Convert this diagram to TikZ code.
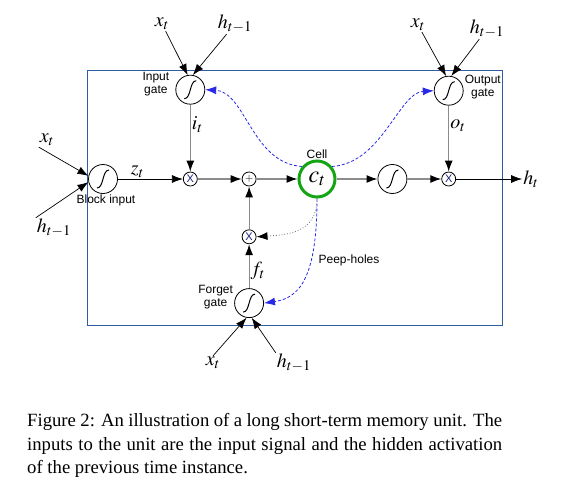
\documentclass[tikz,border=0pt]{standalone}
\usepackage{mathptmx}
\usepackage{fontspec}
\setmainfont{Liberation Serif}
\setsansfont{Liberation Sans}
\usetikzlibrary{positioning, arrows.meta}

\definecolor{frameblue}{RGB}{46,94,160}
\definecolor{cellgreen}{RGB}{20,165,20}
\definecolor{peepblue}{RGB}{40,40,230}
\definecolor{crossblue}{RGB}{25,35,120}

\begin{document}
\begin{tikzpicture}[
    x=1pt, y=1pt,
    sig_node/.style={draw, circle, line width=0.8pt, minimum size=29pt, inner sep=0pt,
        path picture={\draw[line width=1pt]
            ([shift={(-6pt,-9pt)}]path picture bounding box.center)
            .. controls ([shift={(1pt,-9pt)}]path picture bounding box.center)
            and ([shift={(-1pt,9pt)}]path picture bounding box.center)
            .. ([shift={(6pt,9pt)}]path picture bounding box.center);}},
    mult_node/.style={draw, circle, line width=0.8pt, minimum size=14pt, inner sep=0pt, font=\sffamily\fontsize{11}{11}\selectfont},
    cell_node/.style={draw=cellgreen, circle, line width=3pt, minimum size=36pt, inner sep=0pt, font=\fontsize{24}{24}\selectfont},
    var_label/.style={inner sep=1pt, font=\fontsize{20}{24}\selectfont},
    text_label/.style={inner sep=0pt, align=center, font=\sffamily\fontsize{12}{13}\selectfont},
    in_arrow/.style={line width=0.7pt, -{Latex[length=11pt,width=8pt]}},
    flow_arrow/.style={draw=black!45, line width=1.2pt, -{Latex[length=11pt,width=8pt,color=black]}},
    peep_line/.style={peepblue, densely dashed, line width=0.8pt, -{Latex[length=11pt,width=8pt]}}
]
\useasboundingbox (0,0) rectangle (570,-490);

%%%%% Unit frame
\draw[frameblue, line width=0.8pt] (87,-70) rectangle (502,-325);

%%%%% Main chain of nodes
\node[sig_node] (blk) at (103,-179) {};
\node[mult_node, right=65pt of blk]  (mi)   {\textcolor{crossblue}{X}};
\node[mult_node, right=44pt of mi]   (ad)   {$+$};
\node[cell_node, right=41pt of ad]   (cell) {$c_t$};
\node[sig_node,  right=41pt of cell] (sq)   {};
\node[mult_node, right=34pt of sq]   (mo)   {\textcolor{crossblue}{X}};
\node[var_label, right=66pt of mo]   (ht)   {$h_t$};

% Gates
\node[sig_node,  above=67pt of mi] (ig) {};
\node[sig_node,  above=66pt of mo] (og) {};
\node[mult_node, below=43pt of ad] (fm) {\textcolor{crossblue}{X}};
\node[sig_node,  below=44pt of fm] (fg) {};

% Inputs
\node[var_label] (xi) at (162,-24)  {$x_t$};
\node[var_label] (hi) at (235,-24)  {$h_{t-1}$};
\node[var_label] (xo) at (418,-25)  {$x_t$};
\node[var_label] (ho) at (487,-29)  {$h_{t-1}$};
\node[var_label] (xb) at (47,-140)  {$x_t$};
\node[var_label] (hb) at (54,-228)  {$h_{t-1}$};
\node[var_label] (xf) at (213,-363) {$x_t$};
\node[var_label] (hf) at (294,-363) {$h_{t-1}$};

% Names
\node[text_label, left=6pt of ig, yshift=6pt]   (ig_txt)   {Input\\gate};
\node[text_label, right=1pt of og, yshift=4pt]  (og_txt)   {Output\\gate};
\node[text_label, below=1pt of blk, xshift=3pt] (blk_txt)  {Block input};
\node[text_label, above=1pt of cell]            (cell_txt) {Cell};
\node[text_label, left=1pt of fg, yshift=6pt]   (fg_txt)   {Forget\\gate};
\node[text_label] (peep_txt) at (349,-260) {Peep-holes};

%  Draw arrows between nodes
\draw[in_arrow] (xb.south west) -- (blk.168);
\draw[in_arrow] (hb.north west) -- (blk.192);
\draw[in_arrow] (xi) -- (ig.100);
\draw[in_arrow] (hi) -- (ig.80);
\draw[in_arrow] (xo) -- (og.100);
\draw[in_arrow] (ho) -- (og.80);
\draw[in_arrow] (xf.north) -- (fg.260);
\draw[in_arrow] (hf.north west) -- (fg.280);

\draw[in_arrow] (blk) -- node[var_label, above, pos=0.3] (zt) {$z_t$} (mi);
\draw[flow_arrow] (ig) -- node[var_label, right, pos=0.3] (it) {$i_t$} (mi);
\draw[flow_arrow] (mi) -- (ad);
\draw[flow_arrow] (ad) -- (cell);
\draw[flow_arrow] (cell) -- (sq);
\draw[flow_arrow] (sq) -- (mo);
\draw[flow_arrow] (og) -- node[var_label, right, pos=0.3] (ot) {$o_t$} (mo);
\draw[in_arrow] (mo) -- (ht);
\draw[flow_arrow] (fg) -- node[var_label, right, pos=0.4] (ft) {$f_t$} (fm);
\draw[flow_arrow] (fm) -- (ad);

% Peep-holes
\draw[peep_line] (cell.140) .. controls +(-50,3) and +(40,-2) .. (ig.east);
\draw[peep_line] (cell.40) .. controls +(50,3) and +(-35,-2) .. (og.west);
\draw[peep_line] (cell.south) .. controls +(0,-80) and +(35,5) .. (fg.east);
\draw[black!55, dotted, line width=0.8pt, -{Latex[length=11pt,width=8pt,color=black]}] (cell.south) .. controls +(0,-35) and +(30,2) .. (fm.east);

% Caption
\node[anchor=north west, text width=475pt, inner sep=0pt, align=justify, font=\fontsize{18.7}{23.7}\selectfont] (cap) at (27,-413)
    {Figure 2: An illustration of a long short-term memory unit. The\linebreak inputs to the unit are the input signal and the hidden activation\linebreak of the previous time instance.};

\end{tikzpicture}
\end{document}
